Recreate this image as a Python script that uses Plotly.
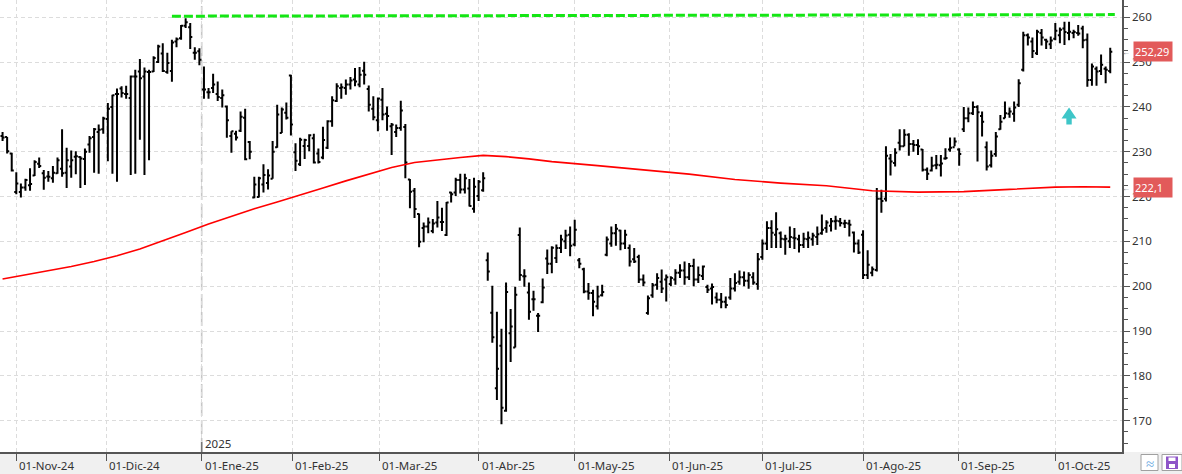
import numpy as np
import pandas as pd
import plotly.graph_objects as go

# ---------------- data ----------------
FIRST_DAY, LAST_DAY = '2024-10-29', '2025-10-17'
HOLIDAYS = ['2024-11-28', '2024-12-25', '2025-01-01', '2025-01-09', '2025-01-20',
            '2025-02-17', '2025-04-18', '2025-05-26', '2025-06-19', '2025-07-04',
            '2025-09-01']

OPEN = [233.5, 233.3, 229.6, 221.0, 221.0, 222.0, 222.5, 224.7, 227.3, 225.2,
        224.5, 224.1, 225.2, 226.2, 225.3, 226.7, 228.9, 228.8, 228.4, 231.6,
        233.3, 234.4, 235.0, 237.3, 240.0, 242.9, 244.1, 242.9, 242.0, 246.8,
        247.9, 246.8, 247.8, 247.9, 250.0, 251.9, 247.8, 248.0, 254.6, 255.3,
        258.1, 257.8, 252.1, 252.4, 243.9, 243.3, 244.2, 242.9, 242.0, 240.1,
        233.5, 234.0, 234.7, 237.6, 232.2, 219.8, 219.9, 222.7, 223.0, 224.0,
        231.0, 234.2, 238.7, 247.0, 229.9, 227.2, 231.3, 231.3, 233.0, 229.6,
        228.7, 230.9, 236.8, 241.3, 244.2, 244.2, 245.0, 246.1, 245.0, 248.1,
        244.0, 239.6, 237.0, 241.6, 238.5, 235.7, 234.4, 235.3, 235.5, 223.8,
        221.3, 216.1, 213.0, 213.3, 212.3, 214.2, 214.3, 211.4, 220.9, 220.9,
        223.7, 221.6, 221.8, 217.3, 220.1, 221.4, 205.8, 194.1, 177.2, 186.7,
        172.2, 189.5, 186.3, 211.4, 202.2, 198.6, 197.1, 193.4, 196.4, 206.2,
        205.0, 206.3, 208.5, 210.0, 211.5, 209.3, 205.8, 203.8, 198.8, 198.5,
        195.5, 198.0, 207.0, 209.5, 211.8, 212.4, 209.5, 208.5, 206.0, 206.5,
        201.5, 194.0, 198.0, 200.3, 201.0, 201.5, 200.5, 201.5, 203.0, 203.5,
        202.0, 204.5, 201.5, 202.3, 199.8, 199.5, 197.5, 197.0, 196.5, 197.5,
        199.5, 201.0, 202.0, 201.2, 202.0, 200.5, 206.5, 209.5, 213.0, 211.5,
        211.8, 210.5, 210.0, 210.8, 210.5, 209.2, 210.5, 210.5, 211.0, 211.8,
        213.0, 213.5, 214.5, 214.5, 214.0, 214.0, 212.0, 209.5, 211.5, 202.5,
        203.0, 203.6, 219.5, 219.5, 228.5, 227.5, 232.0, 231.2, 233.8, 231.7,
        231.5, 230.5, 226.0, 225.8, 227.0, 227.0, 228.5, 230.5, 231.0, 230.5,
        235.0, 237.5, 238.6, 240.0, 238.0, 231.0, 227.0, 229.5, 235.0, 237.5,
        238.5, 238.5, 240.5, 248.3, 256.0, 254.6, 252.0, 256.5, 255.0, 254.0,
        255.2, 256.0, 257.5, 256.5, 256.5, 256.5, 257.5, 255.0, 246.0, 248.5,
        248.0, 248.5, 248.0]

HIGH = [234.4, 233.3, 229.8, 225.4, 222.9, 224.0, 226.3, 228.1, 228.7, 225.9,
        225.7, 226.8, 228.7, 235.0, 230.9, 230.3, 230.1, 229.0, 230.7, 233.5,
        235.3, 236.1, 237.8, 240.9, 242.7, 244.1, 244.6, 244.7, 247.0, 248.3,
        250.7, 248.8, 248.3, 251.3, 253.9, 254.2, 252.1, 255.0, 255.5, 258.3,
        259.8, 258.7, 253.3, 253.1, 249.0, 244.2, 247.4, 245.7, 243.9, 240.3,
        234.6, 234.7, 239.0, 239.6, 232.4, 224.4, 224.4, 227.2, 226.1, 232.4,
        240.5, 239.9, 241.0, 247.2, 231.9, 233.1, 232.9, 233.9, 234.0, 230.7,
        235.6, 237.0, 242.4, 245.3, 245.2, 246.1, 246.7, 248.7, 248.9, 250.1,
        244.8, 242.4, 242.1, 244.2, 240.1, 236.4, 236.1, 241.4, 236.2, 223.9,
        221.9, 216.2, 214.2, 215.3, 215.0, 219.0, 217.5, 218.8, 221.1, 224.2,
        225.1, 225.1, 223.9, 224.2, 223.7, 225.4, 207.5, 200.1, 194.3, 190.5,
        200.8, 194.9, 199.9, 213.1, 203.8, 200.8, 199.0, 194.0, 201.7, 208.2,
        208.9, 209.3, 211.5, 212.6, 213.3, 214.8, 206.3, 204.1, 200.7, 199.2,
        200.1, 200.3, 211.1, 213.3, 213.9, 212.6, 212.6, 209.3, 208.5, 207.0,
        202.6, 197.9, 200.7, 202.9, 203.7, 202.6, 202.2, 203.8, 204.9, 205.5,
        205.2, 206.1, 204.4, 204.6, 200.3, 200.6, 198.6, 198.5, 197.7, 201.8,
        202.9, 203.5, 203.3, 203.1, 203.1, 207.4, 210.4, 214.5, 214.7, 216.5,
        212.2, 211.5, 213.3, 213.0, 211.5, 211.9, 212.2, 211.9, 213.3, 216.0,
        214.7, 215.2, 215.7, 215.2, 214.8, 214.8, 212.2, 210.4, 212.5, 208.0,
        204.4, 221.9, 221.5, 231.2, 229.5, 230.8, 235.0, 235.0, 234.1, 232.6,
        232.8, 230.6, 226.5, 228.9, 229.3, 229.3, 230.8, 233.2, 233.2, 230.8,
        240.0, 239.9, 241.2, 240.4, 239.0, 232.3, 230.3, 234.4, 238.2, 241.2,
        239.9, 241.2, 246.2, 256.8, 256.4, 255.5, 257.2, 257.4, 255.2, 255.7,
        258.7, 257.7, 259.0, 259.0, 257.2, 258.3, 258.1, 256.4, 249.7, 249.0,
        251.7, 249.0, 253.2]

LOW = [232.4, 229.6, 225.6, 220.5, 219.8, 221.3, 221.3, 224.6, 226.4, 221.5,
       223.3, 223.1, 225.1, 224.4, 221.9, 224.2, 225.0, 221.9, 222.6, 229.8,
       225.3, 225.1, 234.0, 227.9, 225.1, 223.3, 242.1, 241.8, 224.8, 225.1,
       232.7, 224.8, 228.1, 247.8, 249.8, 247.8, 247.4, 245.6, 253.3, 255.0,
       257.6, 252.9, 250.5, 249.3, 241.8, 241.8, 243.1, 241.3, 239.9, 233.1,
       229.8, 232.5, 234.4, 228.1, 228.3, 219.6, 219.8, 220.9, 221.6, 224.0,
       230.9, 234.2, 237.2, 233.6, 225.7, 226.8, 228.4, 230.1, 227.4, 227.4,
       228.3, 230.6, 235.6, 241.1, 241.8, 242.7, 243.9, 244.6, 244.4, 245.0,
       239.0, 237.0, 234.6, 237.0, 234.7, 229.3, 233.3, 234.7, 224.1, 217.4,
       215.2, 208.7, 209.8, 211.8, 211.8, 213.1, 212.3, 211.2, 218.7, 220.1,
       220.7, 220.7, 217.8, 216.4, 219.0, 221.1, 201.2, 187.4, 174.6, 169.2,
       172.0, 183.1, 186.3, 201.2, 199.9, 192.5, 194.5, 189.8, 196.2, 202.7,
       202.9, 205.2, 207.4, 208.3, 206.7, 208.9, 204.0, 198.4, 197.0, 193.3,
       194.8, 197.7, 206.7, 208.8, 209.0, 208.0, 208.3, 204.4, 205.2, 200.7,
       200.0, 193.6, 197.4, 199.2, 198.5, 196.6, 200.0, 200.3, 201.8, 200.3,
       201.4, 200.0, 200.7, 201.4, 198.5, 195.9, 196.2, 195.1, 195.1, 197.0,
       198.8, 200.3, 200.0, 199.4, 200.3, 199.2, 205.9, 208.1, 208.5, 208.5,
       208.5, 207.0, 208.5, 208.3, 207.5, 208.5, 208.5, 209.0, 209.2, 211.5,
       211.9, 212.2, 212.6, 213.3, 213.0, 211.1, 207.5, 207.2, 201.6, 201.6,
       202.2, 203.3, 216.4, 218.9, 224.7, 226.7, 230.3, 231.2, 229.1, 230.0,
       229.3, 225.6, 223.7, 225.6, 226.1, 224.5, 228.2, 230.0, 231.2, 226.9,
       234.4, 236.6, 238.2, 227.8, 233.4, 225.8, 226.5, 228.9, 234.9, 237.5,
       237.6, 236.7, 240.0, 247.9, 253.7, 250.9, 251.6, 253.7, 252.9, 252.9,
       254.9, 254.2, 253.8, 254.9, 255.3, 255.9, 253.1, 244.5, 244.7, 244.7,
       247.1, 245.3, 247.5]

CLOSE = [233.2, 230.1, 225.8, 222.9, 222.0, 223.7, 222.8, 227.7, 226.8, 224.2,
         224.4, 225.3, 228.1, 225.2, 228.1, 228.1, 229.0, 228.5, 230.0, 233.0,
         235.0, 234.9, 237.4, 239.6, 242.6, 242.9, 243.1, 242.9, 246.8, 246.8,
         246.4, 247.9, 247.8, 250.9, 253.5, 248.0, 249.8, 254.4, 255.1, 258.1,
         258.9, 255.6, 252.1, 250.5, 243.9, 243.3, 245.0, 242.2, 242.6, 237.0,
         234.6, 233.2, 237.8, 228.3, 230.0, 222.7, 224.1, 224.8, 224.7, 230.0,
         238.3, 239.4, 237.6, 236.1, 228.0, 232.7, 232.6, 233.7, 227.6, 227.7,
         232.6, 236.8, 241.5, 244.6, 244.4, 245.0, 245.9, 245.7, 247.2, 247.2,
         240.5, 237.7, 241.9, 238.3, 238.0, 236.0, 235.3, 239.2, 227.6, 221.1,
         217.2, 209.9, 213.3, 214.2, 214.0, 215.3, 214.3, 218.7, 220.5, 223.7,
         221.6, 224.1, 217.9, 222.2, 223.3, 224.1, 203.3, 188.6, 181.6, 172.9,
         198.7, 191.0, 198.1, 202.5, 202.2, 194.3, 197.1, 193.4, 199.7, 205.0,
         208.6, 208.5, 210.4, 211.3, 209.0, 212.6, 205.0, 198.8, 198.5, 196.5,
         197.7, 198.7, 210.4, 211.8, 212.8, 209.5, 211.5, 205.5, 205.5, 201.5,
         200.8, 197.3, 200.2, 201.8, 199.5, 202.0, 201.8, 203.0, 203.5, 202.0,
         204.5, 201.5, 202.5, 204.4, 199.2, 199.8, 197.0, 196.5, 195.8, 199.5,
         200.7, 202.0, 201.2, 202.5, 200.8, 206.0, 209.5, 213.0, 211.9, 212.7,
         210.6, 210.6, 211.0, 210.7, 209.2, 210.6, 210.8, 211.3, 211.6, 212.6,
         214.2, 214.5, 214.6, 214.1, 214.1, 213.7, 209.5, 207.5, 202.5, 204.8,
         203.8, 219.5, 219.0, 229.1, 227.8, 229.8, 231.2, 233.8, 231.7, 231.5,
         231.2, 226.0, 225.1, 226.9, 227.1, 227.4, 228.6, 230.9, 232.3, 229.5,
         237.5, 238.6, 240.0, 238.8, 236.7, 226.7, 229.1, 233.4, 236.7, 238.6,
         239.0, 239.9, 245.3, 256.0, 255.5, 252.5, 256.8, 255.5, 254.6, 254.8,
         257.0, 257.2, 256.7, 256.8, 256.7, 256.4, 254.9, 246.0, 249.0, 247.9,
         249.4, 248.3, 252.29]

# 200-session moving average, read at these bar numbers
MA_BAR = [0, 5, 10, 15, 20, 25, 30, 35, 40, 45, 50, 55, 60, 65, 70, 75, 80, 85, 90,
          95, 100, 105, 110, 115, 120, 130, 140, 150, 160, 170, 180, 190, 200, 210,
          220, 230, 236, 242]
MA_VALUE = [201.6, 202.5, 203.4, 204.4, 205.5, 206.8, 208.3, 210.1, 212.0, 213.9,
            215.6, 217.3, 218.8, 220.3, 221.9, 223.5, 225.0, 226.5, 227.6, 228.2,
            228.7, 229.2, 228.9, 228.4, 227.8, 226.9, 225.9, 225.0, 223.8, 223.0,
            222.4, 221.3, 221.0, 221.1, 221.6, 222.1, 222.2, 222.1]
MA_LAST_LABEL = '222,1'
CLOSE_LAST_LABEL = '252,29'

RESIST_START = '2024-12-20'
RESIST_LEVEL = [260.25, 260.6]
ARROW_DATE = '2025-10-06'
ARROW_LEVEL = 239.9

MONTH_TICKS = ['2024-11-01', '2024-12-01', '2025-01-01', '2025-02-01', '2025-03-01',
               '2025-04-01', '2025-05-01', '2025-06-01', '2025-07-01', '2025-08-01',
               '2025-09-01', '2025-10-01']
MONTH_LABELS = ['01-Nov-24', '01-Dic-24', '01-Ene-25', '01-Feb-25', '01-Mar-25',
                '01-Abr-25', '01-May-25', '01-Jun-25', '01-Jul-25', '01-Ago-25',
                '01-Sep-25', '01-Oct-25']
YEAR_MARK = '2025-01-01'
YEAR_LABEL = '2025'
Y_TICKS = [170, 180, 190, 200, 210, 220, 230, 240, 250, 260]

# ---------------- helpers ----------------
dates = pd.bdate_range(FIRST_DAY, LAST_DAY)
dates = dates[~dates.isin(pd.to_datetime(HOLIDAYS))]
bars = np.arange(len(dates))


def date_pos(d):
    d = pd.Timestamp(d)
    i = int(dates.searchsorted(d))
    if i < len(dates) and dates[i] == d:
        return float(i)
    prev, nxt = dates[i - 1], dates[i]
    return (i - 1) + (d - prev).days / (nxt - prev).days


W, H = 1182, 474
ML, MR, MT, MB = 0, 60, 0, 22
PW, PH = W - ML - MR, H - MT - MB


def px(x):
    return (x - ML) / PW


def py(y):
    return (H - MB - y) / PH


FONT = 'Noto Sans'
FS = 11.5
TXT = '#333333'
AXIS = '#555555'
GRID = '#dcdcdc'

fig = go.Figure()

fig.add_trace(go.Scatter(
    x=MA_BAR, y=MA_VALUE, mode='lines',
    line=dict(color='#ff0000', width=1.6), hoverinfo='skip', showlegend=False))

fig.add_trace(go.Ohlc(
    x=bars, open=OPEN, high=HIGH, low=LOW, close=CLOSE,
    increasing=dict(line=dict(color='black', width=2)),
    decreasing=dict(line=dict(color='black', width=2)),
    tickwidth=0.45, hoverinfo='skip', showlegend=False))

fig.add_trace(go.Scatter(
    x=[date_pos(RESIST_START), len(dates)], y=RESIST_LEVEL, mode='lines',
    line=dict(color='#14e614', width=3, dash='9px,3px'),
    hoverinfo='skip', showlegend=False))

shapes = []
# bottom band
shapes.append(dict(type='rect', xref='paper', yref='paper', x0=px(0), x1=px(W),
                   y0=py(H), y1=py(H - MB), fillcolor='#f0f0f0',
                   line=dict(width=0), layer='below'))
# year separator
jan = date_pos(YEAR_MARK)
shapes.append(dict(type='line', xref='x', yref='paper', x0=jan, x1=jan, y0=0, y1=1,
                   line=dict(color='#c6c6c6', width=1.6, dash='14px,4px'), layer='below'))
shapes.append(dict(type='line', xref='x', yref='paper', x0=jan, x1=jan, y0=0,
                   y1=py(H - MB - 10), line=dict(color='#777777', width=1.5)))
# cyan arrow
shapes.append(dict(type='path', xref='x', yref='y', xsizemode='pixel', ysizemode='pixel',
                   xanchor=date_pos(ARROW_DATE), yanchor=ARROW_LEVEL,
                   path='M 0 0 L 7.5 -11 L 2.7 -11 L 2.7 -17 L -2.7 -17 L -2.7 -11 L -7.5 -11 Z',
                   fillcolor='#3ec6c8', line=dict(width=0)))
# bottom-right buttons
shapes.append(dict(type='rect', xref='paper', yref='paper', x0=px(1141), x1=px(1158),
                   y0=py(470.5), y1=py(454.5), fillcolor='white',
                   line=dict(color='#a0a0a0', width=1)))
shapes.append(dict(type='rect', xref='paper', yref='paper', x0=px(1162), x1=px(1182),
                   y0=py(470.5), y1=py(454.5), fillcolor='white',
                   line=dict(color='#a0a0a0', width=1)))
shapes.append(dict(type='rect', xref='paper', yref='paper', x0=px(1166), x1=px(1178),
                   y0=py(469), y1=py(456.5), fillcolor='#8e55c8', line=dict(width=0)))
shapes.append(dict(type='rect', xref='paper', yref='paper', x0=px(1168.5), x1=px(1175.5),
                   y0=py(461), y1=py(457.5), fillcolor='white', line=dict(width=0)))
shapes.append(dict(type='rect', xref='paper', yref='paper', x0=px(1169), x1=px(1175),
                   y0=py(468), y1=py(464), fillcolor='white', line=dict(width=0)))

annotations = []
for d, lab in zip(MONTH_TICKS, MONTH_LABELS):
    annotations.append(dict(x=date_pos(d), xref='x', y=py(465), yref='paper',
                            text=lab, showarrow=False, xanchor='left', yanchor='middle',
                            xshift=1, font=dict(family=FONT, size=FS, color=TXT)))
annotations.append(dict(x=jan, xref='x', y=py(443), yref='paper', text=YEAR_LABEL,
                        showarrow=False, xanchor='left', yanchor='middle', xshift=1,
                        font=dict(family=FONT, size=FS, color=TXT)))
for val, lab in [(CLOSE[-1], CLOSE_LAST_LABEL), (MA_VALUE[-1], MA_LAST_LABEL)]:
    annotations.append(dict(x=px(1126), xref='paper', y=val, yref='y', text='\u2190',
                            showarrow=False, xanchor='center', yanchor='middle',
                            font=dict(family=FONT, size=8, color='#777777')))
    annotations.append(dict(x=px(1133), xref='paper', y=val, yref='y', text=lab,
                            showarrow=False, xanchor='left', yanchor='middle',
                            bgcolor='#e25a5a', width=36, height=17, borderpad=1,
                            align='left', font=dict(family=FONT, size=11, color='white')))
annotations.append(dict(x=px(1149.5), xref='paper', y=py(462.5), yref='paper',
                        text='\u2248', showarrow=False, xanchor='center', yanchor='middle',
                        font=dict(family=FONT, size=15, color='#6aa8e0')))

fig.update_layout(
    width=W, height=H, margin=dict(l=ML, r=MR, t=MT, b=MB),
    paper_bgcolor='white', plot_bgcolor='white',
    showlegend=False, hovermode=False,
    shapes=shapes, annotations=annotations,
    xaxis=dict(range=[-0.56, 244.57], tickvals=[date_pos(d) for d in MONTH_TICKS],
               showticklabels=False, ticks='outside', ticklen=7, tickcolor=AXIS,
               showgrid=True, gridcolor=GRID, griddash='4px,3px', gridwidth=1,
               showline=True, linecolor=AXIS, linewidth=1.5, zeroline=False,
               rangeslider=dict(visible=False), fixedrange=True),
    yaxis=dict(side='right', range=[163.0, 263.86], tickvals=Y_TICKS,
               ticks='outside', ticklen=6, tickcolor=AXIS,
               tickfont=dict(family=FONT, size=FS, color=TXT),
               showgrid=True, gridcolor=GRID, griddash='4px,3px', gridwidth=1,
               showline=True, linecolor=AXIS, linewidth=1.5, zeroline=False,
               minor=dict(dtick=2.5, tick0=0, ticks='outside', ticklen=4,
                          tickcolor=AXIS, showgrid=False),
               fixedrange=True),
)

fig.write_html('out.html', config={'displayModeBar': False})
